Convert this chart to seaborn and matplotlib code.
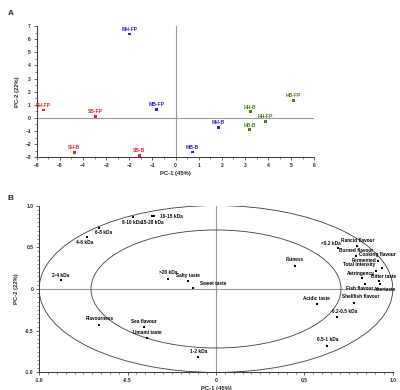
import numpy as np
import pandas as pd
import matplotlib
matplotlib.use("Agg")
import matplotlib.pyplot as plt
import seaborn as sns
from matplotlib.patches import Circle
from matplotlib.ticker import MultipleLocator, FuncFormatter

# ---- Panel A: scores ----
samples = ['SH-FP', 'SB-FP', 'MH-FP', 'MB-FP', 'SH-B', 'SB-B',
           'MB-B', 'MH-B', 'HH-B', 'HH-FP', 'HB-B', 'HB-FP']
score_pc1 = [-5.7, -3.47, -2.0, -0.84, -4.38, -1.57, 0.73, 1.84, 3.23, 3.88, 3.19, 5.09]
score_pc2 = [0.6, 0.13, 6.4, 0.64, -2.64, -2.85, -2.6, -0.73, 0.46, -0.27, -0.89, 1.35]
species = ['S', 'S', 'M', 'M', 'S', 'S', 'M', 'M', 'H', 'H', 'H', 'H']

# ---- Panel B: loadings ----
variables = ['2-4 kDa', '4-6 kDa', '6-8 kDa', '8-10 kDa', '10-15 kDa', '15-20 kDa',
             '>20 kDa', 'Salty taste', 'Sweet taste', 'Flavourness', 'Sea flavour',
             'Umami taste', '1-2 kDa', 'Fatness', '<0.2 kDa', 'Rancid flavour',
             'Burned flavour', 'Cooking flavour', 'Fermented', 'Total intensity',
             'Astringency', 'Bitter taste', 'Fish flavour', 'Aftertaste',
             'Shellfish flavour', 'Acidic taste', '0.2-0.5 kDa', '0.5-1 kDa']
load_pc1 = [-0.876, -0.73, -0.66, -0.47, -0.35, -0.36, -0.27, -0.16, -0.13, -0.66, -0.41,
            -0.39, -0.10, 0.447, 0.69, 0.80, 0.79, 0.915, 0.94, 0.906, 0.823, 0.92, 0.84,
            0.93, 0.78, 0.57, 0.685, 0.63]
load_pc2 = [0.11, 0.62, 0.73, 0.86, 0.87, 0.87, 0.12, 0.09, 0.01, -0.43, -0.46, -0.59,
            -0.82, 0.28, 0.49, 0.51, 0.39, 0.34, 0.25, 0.22, 0.13, 0.09, 0.055, 0.055,
            -0.17, -0.185, -0.335, -0.68]

# label offsets in pixels (layout only)
b_offsets = {'4-6 kDa': (-2, -5), '6-8 kDa': (4, -4), '8-10 kDa': (-1, -5),
             '10-15 kDa': (17, 0), '15-20 kDa': (0, -6), 'Sweet taste': (20, 5),
             '<0.2 kDa': (-7, 5), 'Fermented': (-18, 8), 'Total intensity': (-17, 6.5),
             'Astringency': (-1, 5), 'Bitter taste': (5, 5),
             'Fish flavour': (-5, -4), 'Aftertaste': (5, -5), 'Shellfish flavour': (7, 7),
             '0.2-0.5 kDa': (8, 5), '2-4 kDa': (0, 4)}

palette = {'S': '#e8202a', 'M': '#2323d6', 'H': '#4e7d1e'}

sns.set_style('ticks')
plt.rcParams['font.family'] = ['Liberation Sans', 'DejaVu Sans']
plt.rcParams['font.weight'] = 'bold'

fig = plt.figure(figsize=(4, 3.9), dpi=100)
axA = fig.add_axes([0.092, 0.597, 0.694, 0.336])
axB = fig.add_axes([0.098, 0.045, 0.884, 0.428])

dfA = pd.DataFrame({'pc1': score_pc1, 'pc2': score_pc2, 'sp': species, 'name': samples})
sns.scatterplot(data=dfA, x='pc1', y='pc2', hue='sp', palette=palette, marker='s',
                s=4, linewidth=0, legend=False, ax=axA, zorder=3)
axA.axvline(0, color='#9a9a9a', lw=0.8, zorder=1)
axA.axhline(0, color='#9a9a9a', lw=0.8, zorder=1)
for _, r in dfA.iterrows():
    axA.annotate(r['name'], (r['pc1'], r['pc2']), xytext=(0, 4.5),
                 textcoords='offset pixels', ha='center', va='center',
                 fontsize=3.6, fontweight='bold', color=palette[r['sp']])
axA.set_xlim(-6, 6)
axA.set_ylim(-3, 7)
axA.xaxis.set_major_locator(MultipleLocator(1))
axA.xaxis.set_minor_locator(MultipleLocator(0.5))
axA.yaxis.set_major_locator(MultipleLocator(1))
axA.yaxis.set_minor_locator(MultipleLocator(0.5))
axA.set_xlabel('PC-1 (45%)', fontsize=4.2, fontweight='bold', labelpad=2)
axA.set_ylabel('PC-2 (22%)', fontsize=4.2, fontweight='bold', labelpad=4)

dfB = pd.DataFrame({'pc1': load_pc1, 'pc2': load_pc2, 'var': variables})
sns.scatterplot(data=dfB, x='pc1', y='pc2', color='black', marker='s', s=4,
                linewidth=0, ax=axB, zorder=3)
axB.axvline(0, color='#9a9a9a', lw=0.8, zorder=1)
axB.axhline(0, color='#9a9a9a', lw=0.8, zorder=1)
for rad in (1.0, np.sqrt(0.5)):
    axB.add_patch(Circle((0, 0), rad, fill=False, ec='#3a3a3a', lw=0.6, zorder=2))
for _, r in dfB.iterrows():
    dx, dy = b_offsets.get(r['var'], (0, 6))
    axB.annotate(r['var'], (r['pc1'], r['pc2']), xytext=(dx, dy),
                 textcoords='offset pixels', ha='center', va='center',
                 fontsize=3.4, fontweight='bold', color='black')
axB.set_xlim(-1.0, 1.0)
axB.set_ylim(-1.0, 1.0)
axB.xaxis.set_major_locator(MultipleLocator(0.5))
axB.xaxis.set_minor_locator(MultipleLocator(0.05))
axB.yaxis.set_major_locator(MultipleLocator(0.5))
axB.yaxis.set_minor_locator(MultipleLocator(0.05))
fmt = FuncFormatter(lambda v, p: '0' if abs(v) < 1e-9 else f'{v:.1f}')
axB.xaxis.set_major_formatter(fmt)
axB.yaxis.set_major_formatter(fmt)
axB.set_xlabel('PC-1 (45%)', fontsize=4.2, fontweight='bold', labelpad=2)
axB.set_ylabel('PC-2 (22%)', fontsize=4.2, fontweight='bold', labelpad=4)

for ax in (axA, axB):
    sns.despine(ax=ax)
    for sp in ('left', 'bottom'):
        ax.spines[sp].set_linewidth(0.7)
        ax.spines[sp].set_color('#333333')
    ax.tick_params(which='major', length=2.2, width=0.5, labelsize=3.6, pad=2)
    ax.tick_params(which='minor', length=1.2, width=0.4)

fig.text(0.02, 0.975, 'A', fontsize=6, fontweight='bold', va='top')
fig.text(0.02, 0.5, 'B', fontsize=6, fontweight='bold', va='top')

fig.savefig('out.png', dpi=100)
